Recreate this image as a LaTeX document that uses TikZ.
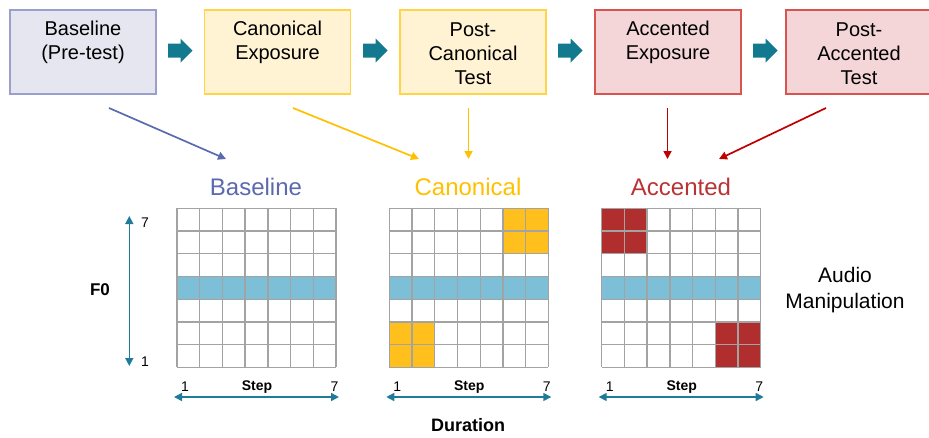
\documentclass[tikz,border=0pt]{standalone}
\usepackage{fontspec}
\setmainfont{Liberation Sans}
\usetikzlibrary{arrows.meta,calc}
\definecolor{bfillA}{HTML}{E6E6F0}
\definecolor{bdrawA}{HTML}{9A9FCB}
\definecolor{bfillB}{HTML}{FFF3D4}
\definecolor{bdrawB}{HTML}{FFD447}
\definecolor{bfillC}{HTML}{F5D6D8}
\definecolor{bdrawC}{HTML}{D9534F}
\definecolor{tealc}{HTML}{13798F}
\definecolor{axisc}{HTML}{1F7C99}
\definecolor{gridc}{HTML}{A3A3A3}
\definecolor{cellblue}{HTML}{7DBFD6}
\definecolor{cellorange}{HTML}{FFC01D}
\definecolor{cellred}{HTML}{B02E2E}
\definecolor{titleblue}{HTML}{5B69AE}
\definecolor{titleorange}{HTML}{FFC000}
\definecolor{titlered}{HTML}{B83335}
\definecolor{arrblue}{HTML}{5B6BAF}
\definecolor{arryellow}{HTML}{FFC000}
\definecolor{arrred}{HTML}{C00000}
\begin{document}
\begin{tikzpicture}[x=1pt,y=-1pt,
  stagebox/.style={draw, line width=1.3pt, minimum width=146pt, minimum height=84pt, inner sep=0pt},
  boxtext/.style={align=center, font=\fontsize{20}{24}\selectfont, inner sep=0pt},
  blockarrow/.style={fill=tealc, draw=none},
  linkarrow/.style={line width=1.7pt, -{Triangle[length=8pt,width=8pt]}},
  titletext/.style={font=\fontsize{24}{28}\selectfont, inner sep=0pt},
  axisarrow/.style={draw=axisc, line width=1.5pt, {Triangle[length=8pt,width=8pt]}-{Triangle[length=8pt,width=8pt]}},
  ticktext/.style={font=\fontsize{14}{16}\selectfont, inner sep=0pt},
  boldtext/.style={font=\bfseries\fontsize{17}{20}\selectfont, inner sep=0pt},
  gridline/.style={draw=gridc, line width=1.3pt}
]
\useasboundingbox (0,0) rectangle (929,437);

% top stage boxes
\node[stagebox, fill=bfillA, draw=bdrawA] (b1) at (83,52) {};
\node[stagebox, fill=bfillB, draw=bdrawB] (b2) at (277.5,52) {};
\node[stagebox, fill=bfillB, draw=bdrawB] (b3) at (473,52) {};
\node[stagebox, fill=bfillC, draw=bdrawC] (b4) at (668,52) {};
\node[stagebox, fill=bfillC, draw=bdrawC] (b5) at (859,52) {};
\node[boxtext] (t1) at (83,42) {Baseline\\(Pre-test)};
\node[boxtext] (t2) at (277.5,42) {Canonical\\Exposure};
\node[boxtext] (t3) at (473,54) {Post-\\Canonical\\Test};
\node[boxtext] (t4) at (668,42) {Accented\\Exposure};
\node[boxtext] (t5) at (859,54) {Post-\\Accented\\Test};

% block arrows (between boxes)
\foreach \a/\x in {1/168,2/363,3/558,4/753}{
  \coordinate (ba\a) at (\x,50.5);
  \fill[blockarrow] (ba\a) ++(0,-7) -- ++(12.5,0) -- ++(0,-5) -- ++(12,12) -- ++(-12,12) -- ++(0,-5) -- ++(-12.5,0) -- cycle;
}

% titles
\node[titletext, text=titleblue] (g1) at (256,187) {Baseline};
\node[titletext, text=titleorange] (g2) at (468,187) {Canonical};
\node[titletext, text=titlered] (g3) at (681,187) {Accented};

% link arrows
\coordinate (s1) at (109,108); \coordinate (e1) at (226,159);
\coordinate (s2) at (293,108); \coordinate (e2) at (419,159);
\coordinate (s3) at (468.5,108); \coordinate (e3) at (468.5,159);
\coordinate (s4) at (667.5,108); \coordinate (e4) at (667.5,159);
\coordinate (s5) at (826,108); \coordinate (e5) at (719,159);
\draw[linkarrow, arrblue] (s1) -- (e1);
\draw[linkarrow, arryellow] (s2) -- (e2);
\draw[linkarrow, arryellow] (s3) -- (e3);
\draw[linkarrow, arrred] (s4) -- (e4);
\draw[linkarrow, arrred] (s5) -- (e5);

% grids
\def\cs{22.714}
\def\gy{208.3}
% blue rows
\foreach \gx in {177,389.3,601.7}{
  \fill[cellblue] (\gx,\gy+3*\cs) rectangle (\gx+7*\cs,\gy+4*\cs);
}
% canonical orange cells
\fill[cellorange] (389.3+5*\cs,\gy) rectangle (389.3+7*\cs,\gy+2*\cs);
\fill[cellorange] (389.3,\gy+5*\cs) rectangle (389.3+2*\cs,\gy+7*\cs);
% accented red cells
\fill[cellred] (601.7,\gy) rectangle (601.7+2*\cs,\gy+2*\cs);
\fill[cellred] (601.7+5*\cs,\gy+5*\cs) rectangle (601.7+7*\cs,\gy+7*\cs);
\foreach \gx in {177,389.3,601.7}{
  \foreach \i in {0,...,7}{
    \draw[gridline] (\gx+\i*\cs,\gy) -- (\gx+\i*\cs,\gy+7*\cs);
    \draw[gridline] (\gx,\gy+\i*\cs) -- (\gx+7*\cs,\gy+\i*\cs);
  }
}

% F0 axis
\coordinate (fa) at (129.3,216); \coordinate (fb) at (129.3,366);
\draw[axisarrow] (fa) -- (fb);
\node[ticktext] (f7) at (145,223) {7};
\node[ticktext] (f1) at (145,361.5) {1};
\node[boldtext] (f0) at (100,290) {F0};

% step axes
\foreach \gx/\n in {177/1,389.3/2,601.7/3}{
  \coordinate (sa\n) at (\gx-3,397);
  \coordinate (sb\n) at (\gx+162,397);
  \draw[axisarrow] (sa\n) -- (sb\n);
  \node[ticktext] (one\n) at (\gx+8,386.5) {1};
  \node[ticktext] (sev\n) at (\gx+157.5,386.5) {7};
  \node[font=\bfseries\fontsize{14}{16}\selectfont, inner sep=0pt] (st\n) at (\gx+80,387) {Step};
}

\node[font=\bfseries\fontsize{18}{20}\selectfont, inner sep=0pt] (dur) at (468,425) {Duration};
\node[align=center, font=\fontsize{21}{26}\selectfont, inner sep=0pt] (am) at (845,290) {Audio\\Manipulation};
\end{tikzpicture}
\end{document}
